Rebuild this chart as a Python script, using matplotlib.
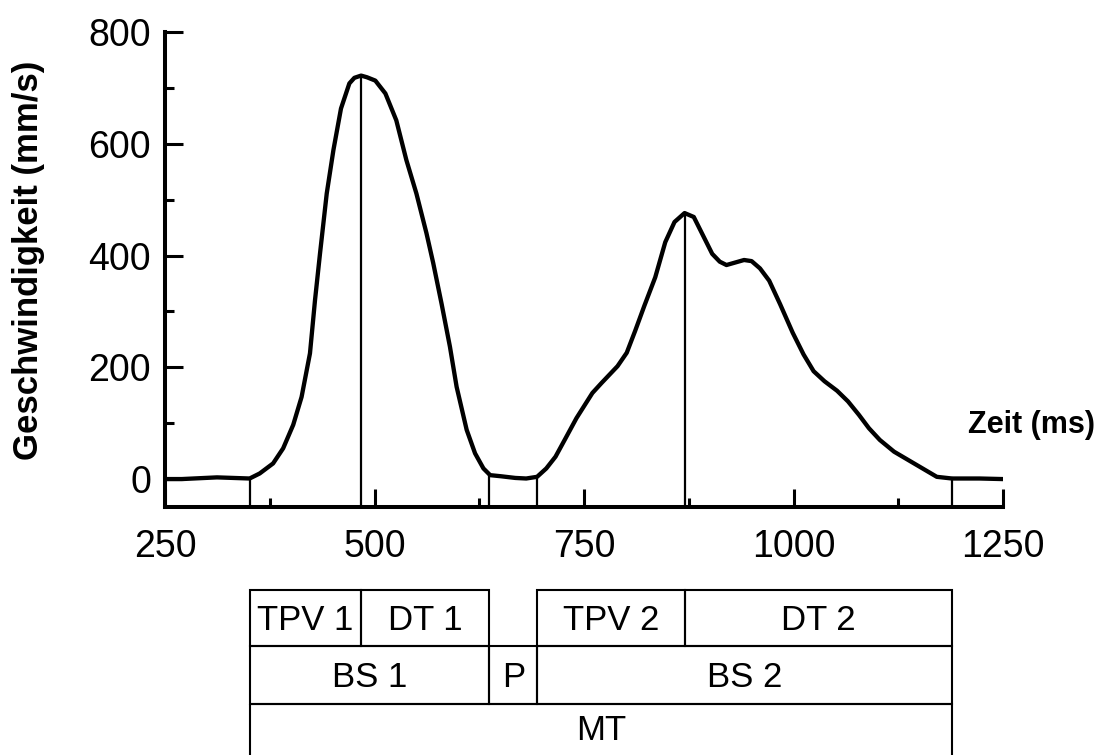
import matplotlib
matplotlib.use("Agg")
import matplotlib.pyplot as plt
from matplotlib.patches import Rectangle
from matplotlib.ticker import FixedLocator
import numpy as np

# ---- data ----
time_ms = [252, 270, 312, 351, 363, 379, 391, 403, 413, 423, 429, 435, 443, 451, 460,
           470, 476, 484, 491, 501, 513, 526, 538, 550, 562, 570, 580, 590, 598, 610,
           620, 630, 638, 651, 668, 681, 694, 705, 716, 728, 741, 760, 771, 790, 801,
           811, 822, 835, 847, 858, 870, 881, 892, 903, 912, 920, 941, 950, 960, 971,
           984, 999, 1012, 1024, 1037, 1052, 1065, 1078, 1090, 1103, 1120, 1137, 1154,
           1171, 1189, 1222, 1249]
speed = [0, 0, 3, 1, 10, 28, 55, 97, 147, 225, 320, 404, 511, 589, 663,
         708, 718, 722, 719, 713, 690, 642, 571, 511, 440, 387, 314, 237, 165, 88,
         46, 19, 7, 5, 2, 1, 4, 19, 40, 73, 109, 154, 172, 202, 226,
         265, 310, 361, 424, 460, 476, 469, 436, 403, 389, 383, 392, 390, 377, 355,
         313, 262, 223, 193, 175, 158, 139, 115, 91, 70, 49, 34, 19,
         4, 1, 1, 0]

# event times (ms): onset1, peak1, end1, onset2, peak2, end2
event_names = ["onset1", "peak1", "end1", "onset2", "peak2", "end2"]
event_ms = [351, 484, 637, 694, 870, 1189]
ev = dict(zip(event_names, event_ms))

x_ticks = [250, 500, 750, 1000, 1250]
x_minor = [375, 625, 875, 1125]
y_ticks = [0, 200, 400, 600, 800]
y_minor = [100, 300, 500, 700]

# phase boxes: (label, start event, end event, row)
phase_labels = ["TPV 1", "DT 1", "TPV 2", "DT 2", "BS 1", "P", "BS 2", "MT"]
phase_start = ["onset1", "peak1", "onset2", "peak2", "onset1", "end1", "onset2", "onset1"]
phase_end = ["peak1", "end1", "peak2", "end2", "end1", "onset2", "end2", "end2"]
phase_row = [0, 0, 0, 0, 1, 1, 1, 2]

# ---- figure ----
W, H = 1099, 755
fig = plt.figure(figsize=(W / 100, H / 100), dpi=100)
plt.rcParams['font.family'] = ['Liberation Sans', 'DejaVu Sans']

ax_l, ax_r, ax_t, ax_b = 165, 1003, 32, 507
ax = fig.add_axes([ax_l / W, 1 - ax_b / H, (ax_r - ax_l) / W, (ax_b - ax_t) / H])
ax.plot(time_ms, speed, color="black", lw=3.1, solid_joinstyle="round", zorder=3)
ax.set_xlim(250, 1250)
ax.set_ylim(-50, 800)

# vertical event lines from bottom to curve
ev_vals = np.interp(event_ms, time_ms, speed)
for t, v in zip(event_ms, ev_vals):
    ax.plot([t, t], [-50, v], color="black", lw=1.6, zorder=2)

for s in ["top", "right"]:
    ax.spines[s].set_visible(False)
for s in ["left", "bottom"]:
    ax.spines[s].set_linewidth(2.9)

ax.xaxis.set_major_locator(FixedLocator(x_ticks))
ax.xaxis.set_minor_locator(FixedLocator(x_minor))
ax.yaxis.set_major_locator(FixedLocator(y_ticks))
ax.yaxis.set_minor_locator(FixedLocator(y_minor))
ax.tick_params(which="major", direction="in", length=13, width=2.2, labelsize=27)
ax.tick_params(which="minor", direction="in", length=6.5, width=2.2)
ax.tick_params(axis="x", which="major", pad=16)
ax.tick_params(axis="y", which="major", pad=10)

ax.set_ylabel("Geschwindigkeit (mm/s)", fontsize=25, fontweight="bold")
ax.yaxis.set_label_coords((45 - ax_l) / (ax_r - ax_l), 0.52)
fig.text(968 / W, 1 - 425 / H, "Zeit (ms)", fontsize=22, fontweight="bold",
         ha="left", va="center")

# ---- phase boxes ----
row_edges = [590, 646, 704, 760]
label_y = [621, 678, 731]
bx = fig.add_axes([ax_l / W, 0, (ax_r - ax_l) / W, (H - 590) / H])
bx.set_xlim(250, 1250)
bx.set_ylim(H, 590)
bx.axis("off")
for lab, s0, s1, r in zip(phase_labels, phase_start, phase_end, phase_row):
    x0, x1 = ev[s0], ev[s1]
    y0, y1 = row_edges[r], row_edges[r + 1]
    bx.add_patch(Rectangle((x0, y0), x1 - x0, y1 - y0, fill=False,
                           edgecolor="black", lw=1.5, clip_on=False))
    bx.text((x0 + x1) / 2, label_y[r], lab, ha="center", va="center", fontsize=25)

fig.savefig("out.png", dpi=100)
